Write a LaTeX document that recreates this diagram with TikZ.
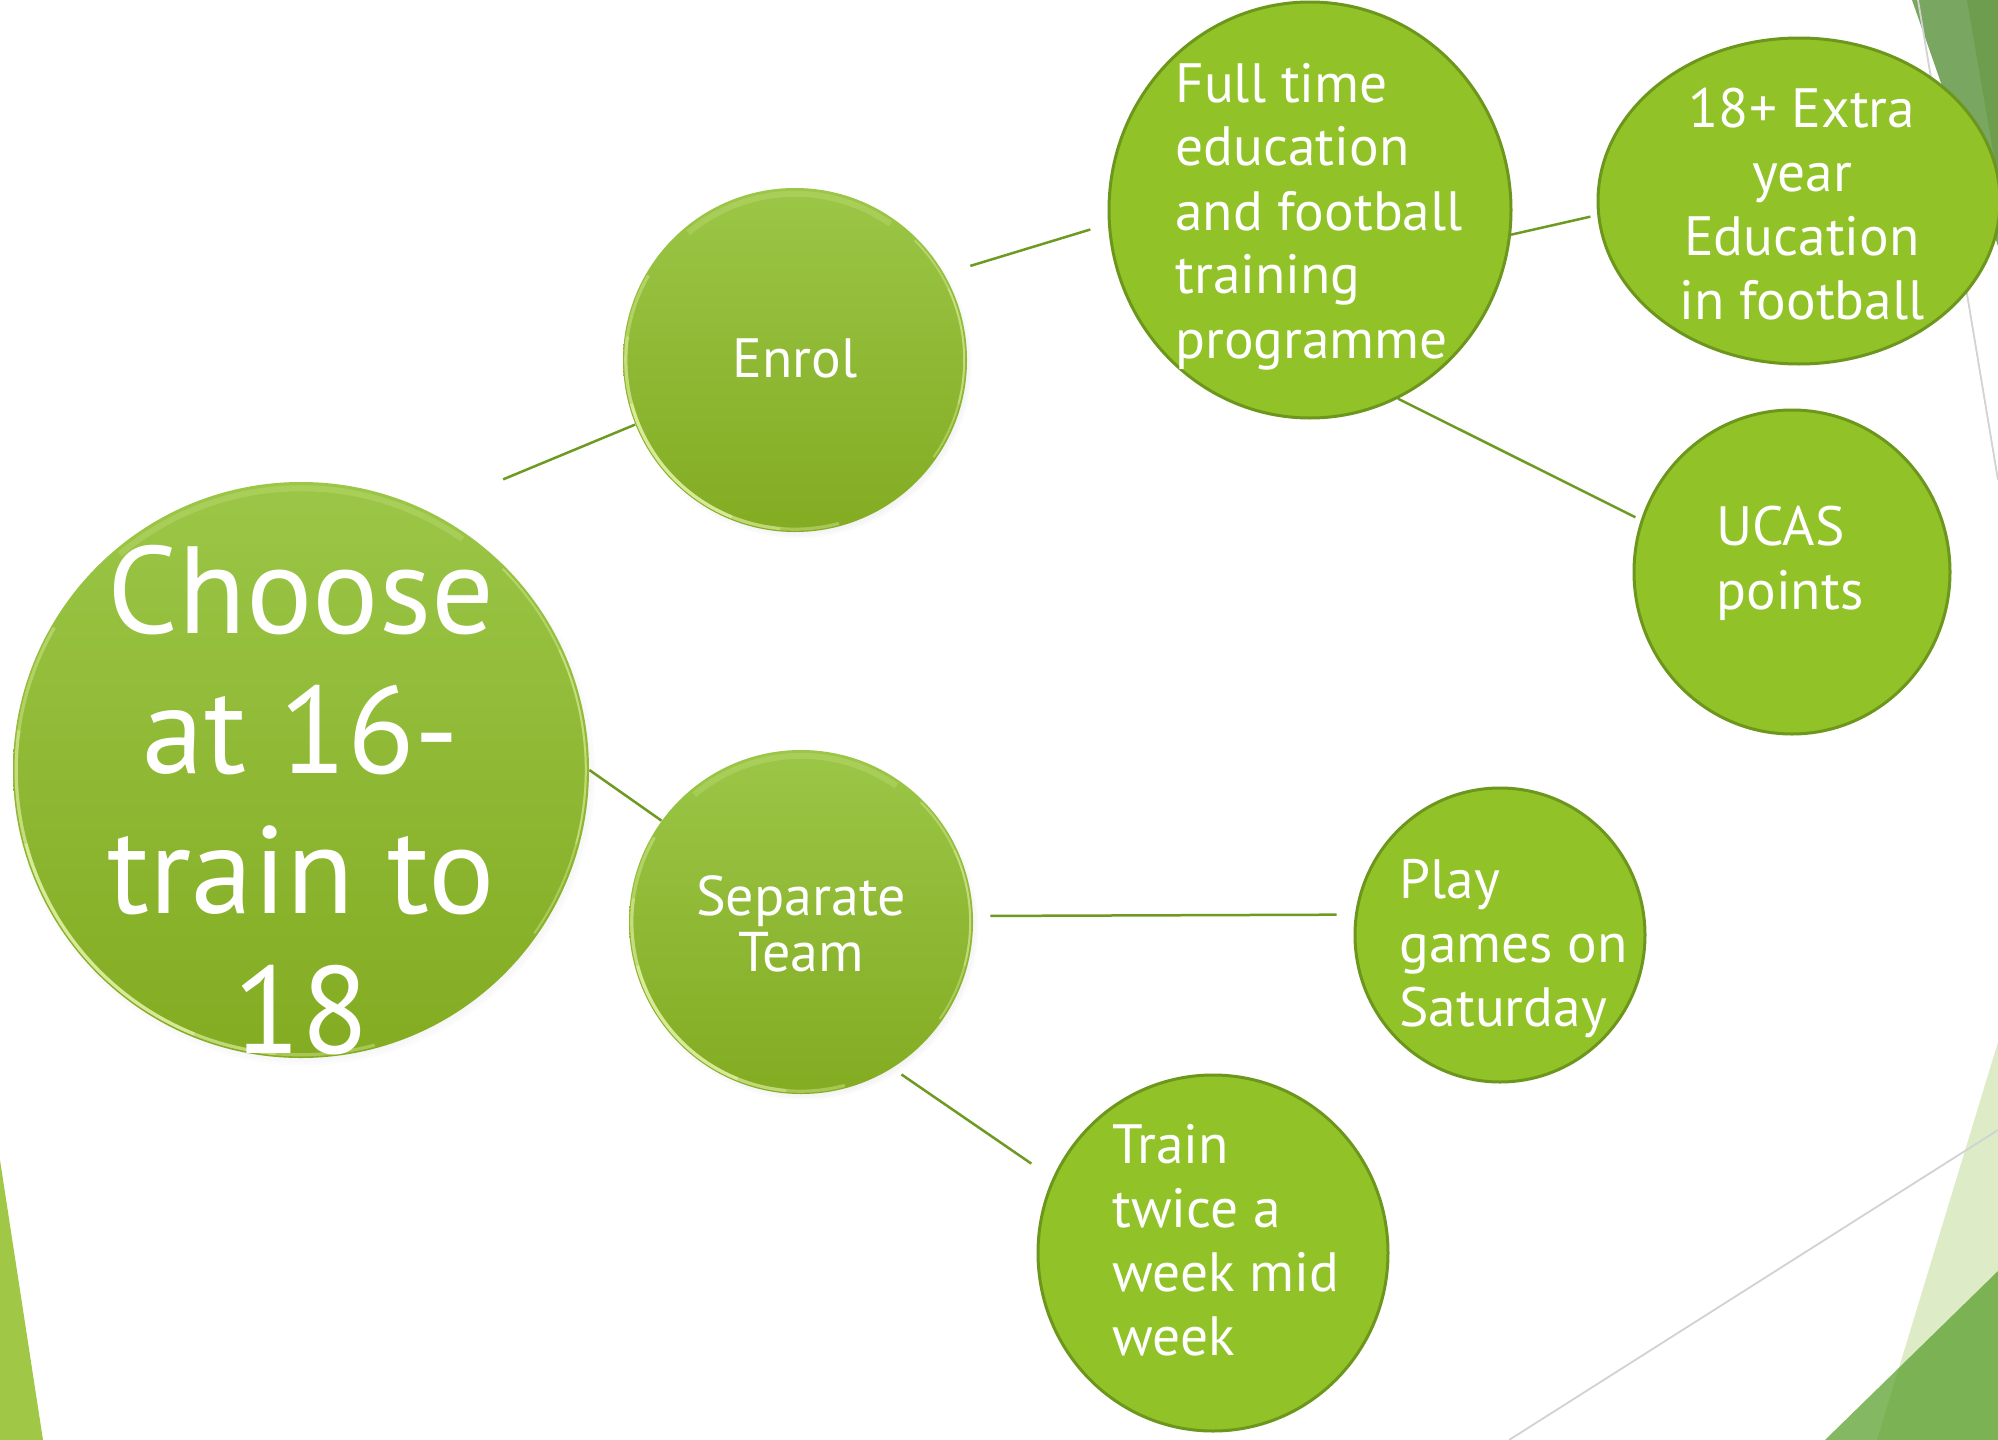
\documentclass[tikz,border=0pt]{standalone}
\usepackage{fontspec}
\setmainfont{PT Sans}
\usetikzlibrary{shadows,fadings,shapes.geometric}
\pgfdeclarelayer{bglayer}
\pgfdeclarelayer{linelayer}
\pgfsetlayers{bglayer,linelayer,main}
\definecolor{gtop}{HTML}{9BC647}
\definecolor{gbot}{HTML}{83AC22}
\definecolor{solidfill}{HTML}{91C227}
\definecolor{solidedge}{HTML}{6C971C}
\definecolor{linec}{HTML}{6E9A22}
\definecolor{rimc}{HTML}{EEFAB4}
\definecolor{trlight}{HTML}{79A660}
\definecolor{trdark}{HTML}{6F9D4E}
\definecolor{brlight}{HTML}{DDEBC6}
\definecolor{brdark}{HTML}{589E29}
\definecolor{blgreen}{HTML}{A0C846}
\definecolor{greyline}{HTML}{D2D2D2}
\begin{document}
\begin{tikzpicture}[x=0.5pt,y=-0.5pt,
  gradcircle/.style={circle, inner sep=0pt, minimum size=#1, top color=gtop, bottom color=gbot, draw=none,
    circular drop shadow={shadow xshift=1.5pt, shadow yshift=-2pt, opacity=0.3, fill=black!55, shadow scale=1.012}},
  solidnode/.style 2 args={ellipse, inner sep=0pt, minimum width=#1, minimum height=#2, fill=solidfill, draw=solidedge, line width=1.5pt},
  conn/.style={draw=linec, line width=1.25pt},
  lbl/.style={text=white, inner sep=0pt, font=\fontsize{27.7}{32}\selectfont},
  rim/.style={draw=rimc, line width=1.6pt, opacity=0.35},
  toprim/.style={draw=rimc, line width=3pt, opacity=0.18},
]
\useasboundingbox (0,0) rectangle (1998,1440);
\clip (0,0) rectangle (1998,1440);

% background decoration
\begin{pgfonlayer}{bglayer}
  \fill[white] (0,0) rectangle (1998,1440);
  \fill[trlight] (1912,0) -- (1998,0) -- (1998,246) -- cycle;
  \fill[trdark] (1967,0) -- (1998,0) -- (1998,180) -- cycle;
  \draw[greyline, line width=0.9pt] (1918,0) -- (1998,480);
  \fill[brlight] (1998,1042) -- (1998,1440) -- (1877,1440) -- cycle;
  \fill[brdark, opacity=0.73] (1998,1271) -- (1998,1440) -- (1825,1440) -- cycle;
  \draw[greyline, line width=0.9pt] (1998,1130) -- (1509,1440);
  \fill[blgreen] (0,1160) -- (43,1440) -- (0,1440) -- cycle;
\end{pgfonlayer}

% nodes
\node[gradcircle=288pt] (main) at (301,770) {};
\node[gradcircle=172pt] (enrol) at (795,360) {};
\node[gradcircle=172pt] (sep) at (801,922) {};
\node[solidnode={201pt}{208pt}] (full) at (1310,210) {};
\node[solidnode={201pt}{163pt}] (plus) at (1799,201) {};
\node[solidnode={158pt}{162pt}] (ucas) at (1792,572) {};
\node[solidnode={145pt}{147pt}] (play) at (1500,935) {};
\node[solidnode={175pt}{178pt}] (train) at (1213,1253) {};

% bevel highlights (main: R=144pt, enrol: 86pt, sep: 86pt)
\foreach \n/\r in {main/142.4, enrol/84.6, sep/84.6}{
  \draw[rim] (\n.center) ++(150:\r pt) arc[start angle=150, end angle=285, radius=\r pt];
  \draw[rim] (\n.center) ++(172:\r pt) arc[start angle=172, end angle=265, radius=\r pt];
  \draw[rim, opacity=0.5] (\n.center) ++(195:\r pt) arc[start angle=195, end angle=248, radius=\r pt];
  \draw[rim, line width=1pt] (\n.center) ++(-35:\r pt) arc[start angle=-35, end angle=45, radius=\r pt];
  \draw[rim, line width=1pt, opacity=0.3] (\n.center) ++(-15:\r pt) arc[start angle=-15, end angle=25, radius=\r pt];
  \draw[toprim] (\n.center) ++(55:{\r pt-1.5pt}) arc[start angle=55, end angle=130, radius={\r pt-1.5pt}];
}

% connectors
\begin{pgfonlayer}{linelayer}
  \draw[conn, shorten <=41pt] (main.64.6) -- (enrol.202);
  \draw[conn, shorten <=13.6pt, shorten >=9.2pt] (enrol.30.9) -- (full.184.9);
  \draw[conn, shorten >=3.5pt] (full.353.8) -- (plus.184.9);
  \draw[conn, shorten >=3pt] (full.295.6) -- (ucas.161.8);
  \draw[conn] (main.0.6) -- (sep.144.5);
  \draw[conn, shorten <=8.5pt, shorten >=9.2pt] (sep.2.3) -- (play.172.1);
  \draw[conn, shorten <=5.5pt, shorten >=12.9pt] (sep.302.7) -- (train.155.3);
\end{pgfonlayer}

% texts
\node[text=white, inner sep=0pt, font=\fontsize{62}{70}\selectfont, anchor=base] (maintext) at (301,633)
  {\begin{tabular}[t]{@{}c@{}}Choose\\at 16-\\train to\\18\end{tabular}};
\node[lbl, anchor=base] (enroltext) at (795,377) {Enrol};
\node[lbl, font=\fontsize{28}{28}\selectfont, anchor=base] (septext) at (801,915)
  {\begin{tabular}[t]{@{}c@{}}Separate\\Team\end{tabular}};
\node[lbl, anchor=base west] (fulltext) at (1175,102)
  {\begin{tabular}[t]{@{}l@{}}Full time\\education\\and football\\training\\programme\end{tabular}};
\node[lbl, anchor=base] (plustext) at (1802,127)
  {\begin{tabular}[t]{@{}c@{}}18+ Extra\\year\\Education\\in football\end{tabular}};
\node[lbl, anchor=base west] (ucastext) at (1716,545)
  {\begin{tabular}[t]{@{}l@{}}UCAS\\points\end{tabular}};
\node[lbl, anchor=base west] (playtext) at (1399,898)
  {\begin{tabular}[t]{@{}l@{}}Play\\games on\\Saturday\end{tabular}};
\node[lbl, anchor=base west] (traintext) at (1112,1163)
  {\begin{tabular}[t]{@{}l@{}}Train\\twice a\\week mid\\week\end{tabular}};
\end{tikzpicture}
\end{document}
